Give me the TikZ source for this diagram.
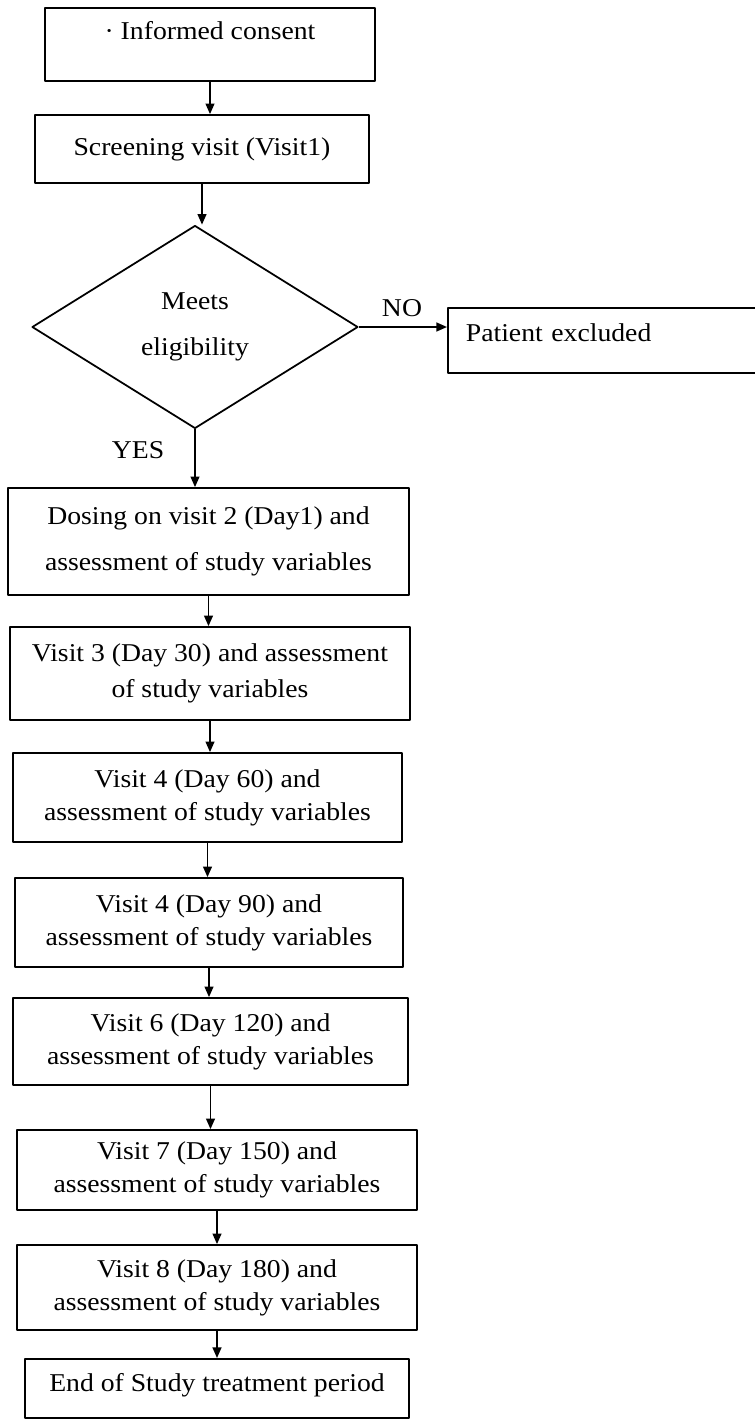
\documentclass[tikz,border=0pt]{standalone}
\usepackage{fontspec}
\setmainfont{Liberation Serif}[FakeStretch=1.08]
\usetikzlibrary{shapes.geometric,arrows.meta}

\begin{document}
\begin{tikzpicture}[x=0.02cm, y=-0.02cm, line width=1pt, line join=round, >={Triangle[length=6pt,width=5pt]},
		font=\fontsize{14.6}{18.8}\selectfont,
		box/.style={draw, rectangle, align=center, inner sep=0pt},
		decision/.style={draw, diamond, align=center, inner sep=0pt, minimum width=6.52cm, minimum height=4.06cm}]
		\useasboundingbox (0,0) rectangle (754,1420);
		\node[box, anchor=north, minimum width=6.6cm, text height=0.64cm, text depth=0.82cm] (consent) at (210,7) {· Informed consent};
		\node[box, minimum width=6.68cm, minimum height=1.36cm] (screen) at (202,149) {Screening visit (Visit1)};
		\node[decision] (elig) at (195,327) {Meets\\[7pt]eligibility};
		\node[box, anchor=north west, inner xsep=0.36cm, text width=8.5cm, align=left,
			text height=0.67cm, text depth=0.63cm] (excl) at (447,307) {Patient excluded};
		\node (no) at (402,308) {NO};
		\node (yes) at (138,450) {YES};
		\node[box, minimum width=8.02cm, minimum height=2.14cm] (dose) at (208.5,541.5) {Dosing on visit 2 (Day1) and\\[7pt]assessment of study variables};
		\node[box, minimum width=8cm, minimum height=1.86cm] (v3) at (210,673.5) {Visit 3 (Day 30) and assessment\\[1.5pt]of study variables};
		\node[box, minimum width=7.78cm, minimum height=1.78cm] (v4a) at (207.5,797.5) {Visit 4 (Day 60) and\\assessment of study variables};
		\node[box, minimum width=7.76cm, minimum height=1.78cm] (v4b) at (209,922.5) {Visit 4 (Day 90) and\\assessment of study variables};
		\node[box, minimum width=7.9cm, minimum height=1.74cm] (v6) at (210.5,1041.5) {Visit 6 (Day 120) and\\assessment of study variables};
		\node[box, minimum width=8cm, minimum height=1.6cm] (v7) at (217,1170) {Visit 7 (Day 150) and\\assessment of study variables};
		\node[box, minimum width=8cm, minimum height=1.7cm] (v8) at (217,1287.5) {Visit 8 (Day 180) and\\assessment of study variables};
		\node[box, anchor=north, minimum width=7.68cm, text height=0.66cm, text depth=0.52cm] (end) at (217,1358) {End of Study treatment period};
		\foreach \a/\b in {consent/screen, screen/elig, elig/dose, dose/v3, v3/v4a, v4a/v4b, v4b/v6, v6/v7, v7/v8, v8/end}
		\draw[->] (\a.south) -- (\a.south |- \b.north);
		\draw[->] (elig.east) -- (elig.east -| excl.west);
	\end{tikzpicture}
\end{document}
